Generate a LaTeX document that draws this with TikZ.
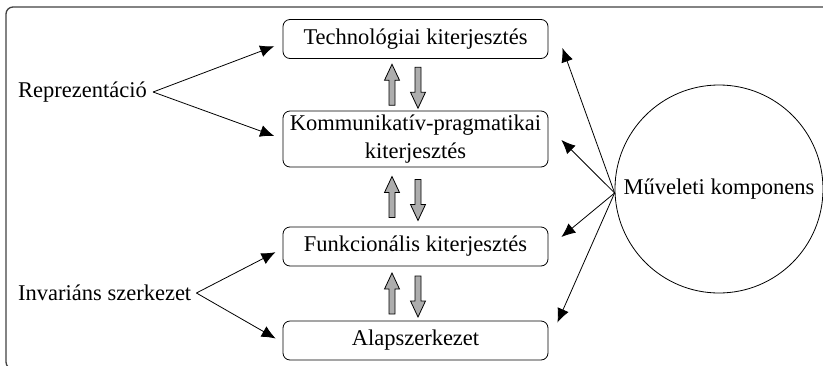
\documentclass[tikz,border=0pt]{standalone}
\usepackage{fontspec}
\setmainfont{Liberation Serif}
\usepackage{tikz}
\usetikzlibrary{arrows.meta, calc, positioning}

\tikzset{
	doboz/.style={draw, line width=0.8pt, rounded corners=7pt, minimum width=265pt, minimum height=39pt, inner sep=2pt, align=center},
	felirat/.style={anchor=west, inner sep=0pt},
	nyil/.style={-{Latex[length=14pt, width=12pt]}, line width=0.8pt},
	blokk/.style={draw, line width=0.8pt, fill=black!32, line join=miter}
}

%% ket vastag nyil (fel es le) ket doboz kozott
\newcommand{\nyilpar}[2]{%
	\coordinate (kozep) at ($(#1.south)!0.5!(#2.north)$);
	\draw[blokk] ($(kozep)+(-26.5,20.5)$) -- ++(0,-25) -- ++(-4.5,0) -- ++(7.5,-16) -- ++(7.5,16) -- ++(-4.5,0) -- ++(0,25) -- cycle;
	\draw[blokk] ($(kozep)+(-0.5,-17.5)$) -- ++(0,25) -- ++(-4.5,0) -- ++(7.5,16) -- ++(7.5,-16) -- ++(-4.5,0) -- ++(0,-25) -- cycle;
}

\begin{document}
\begin{tikzpicture}[x=1pt, y=-1pt, font=\fontsize{22.5}{28}\selectfont]
			\useasboundingbox (0,0) rectangle (823,365);
			%% keret
			\draw[line width=1.3pt, black!75, rounded corners=7pt] (840,7) -- (6,7) -- (6,369) -- (840,369);
			
			\pgfmathsetmacro{\dobozx}{415.5}
			\node[doboz] (tech) at (\dobozx,39) {Technológiai kiterjesztés};
			\node[doboz, minimum height=56pt] (komm) at (\dobozx,139) {Kommunikatív-pragmatikai\\kiterjesztés};
			\node[doboz] (funk) at (\dobozx,246.5) {Funkcionális kiterjesztés};
			\node[doboz] (alap) at (\dobozx,340.5) {Alapszerkezet};
			
			\nyilpar{tech}{komm}
			\nyilpar{komm}{funk}
			\nyilpar{funk}{alap}
			
			\node[felirat] (repr) at (18,92) {Reprezentáció};
			\node[felirat] (inv) at (18,293) {Invariáns szerkezet};
			
			\draw[nyil, shorten >=9pt] ([xshift=6pt]repr.east) -- ($(tech.west)+(0,4)$);
			\draw[nyil, shorten >=9pt] ([xshift=6pt]repr.east) -- (komm.west);
			\draw[nyil, shorten >=8pt] ([xshift=5pt]inv.east) -- ($(funk.west)+(0,2)$);
			\draw[nyil, shorten >=8pt] ([xshift=5pt]inv.east) -- ($(alap.west)+(0,2)$);
			
			\node[draw, circle, line width=0.8pt, minimum size=208pt, inner sep=0pt] (muv) at (719,189) {Műveleti komponens};
			
			\draw[nyil] ([yshift=-4pt]muv.west) -- ($(tech.east)+(14,9)$);
			\draw[nyil] ([yshift=-4pt]muv.west) -- ($(komm.east)+(13,1)$);
			\draw[nyil] ([yshift=-4pt]muv.west) -- ($(funk.east)+(13,-9.5)$);
			\draw[nyil] ([yshift=-4pt]muv.west) -- ($(alap.east)+(9,-18)$);
\end{tikzpicture}
\end{document}
